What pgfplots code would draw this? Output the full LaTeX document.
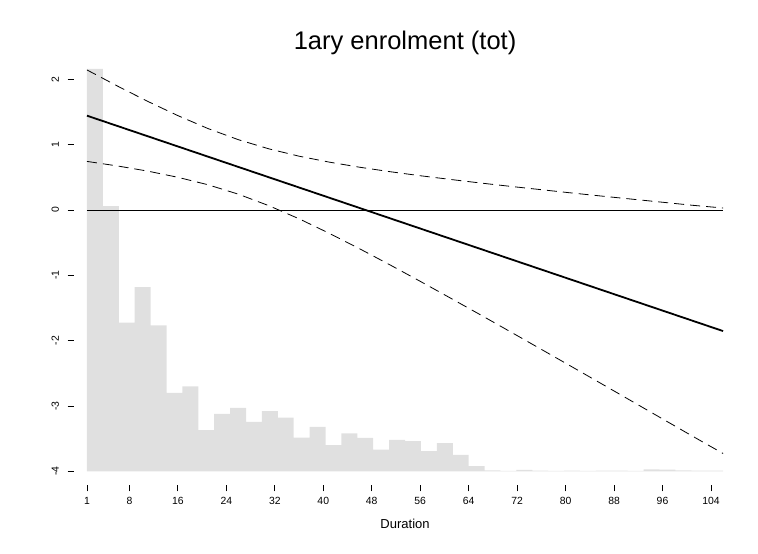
\documentclass[border=0pt]{standalone}
\usepackage{fontspec}
\setmainfont{Liberation Sans}
\usepackage{pgfplots}
\usepackage{pgfplotstable}
\pgfplotsset{compat=1.18}
\definecolor{histgray}{RGB}{224,224,224}

% Duration histogram, rescaled onto the effect axis (baseline at -4):
% left bin edge and bar top; first and last rows close the outline.
\pgfplotstableread{
x y
1 -4
1 2.16
3.625 0.06
6.25 -1.725
8.875 -1.18
11.5 -1.765
14.125 -2.80
16.75 -2.70
19.375 -3.37
22 -3.12
24.625 -3.03
27.25 -3.245
29.875 -3.08
32.5 -3.18
35.125 -3.485
37.75 -3.32
40.375 -3.60
43 -3.42
45.625 -3.49
48.25 -3.67
50.875 -3.52
53.5 -3.54
56.125 -3.69
58.75 -3.57
61.375 -3.75
64 -3.92
66.625 -3.985
69.25 -3.995
71.875 -3.98
74.5 -3.99
77.125 -3.995
79.75 -3.99
82.375 -3.995
85 -3.99
87.625 -3.99
90.25 -3.995
92.875 -3.97
95.5 -3.975
98.125 -3.985
100.75 -3.99
103.375 -3.99
106 -3.99
106 -4
}\durhist

% Estimated effect and its confidence band
\pgfplotstableread{
x fit upper lower
1 1.443 2.143 0.743
6 1.286 1.898 0.674
11 1.129 1.663 0.595
16 0.972 1.444 0.500
21 0.815 1.245 0.385
26 0.658 1.075 0.241
31 0.501 0.936 0.066
36 0.344 0.823 -0.135
41 0.187 0.732 -0.358
46 0.030 0.654 -0.594
51 -0.127 0.586 -0.840
56 -0.284 0.524 -1.092
61 -0.441 0.467 -1.349
66 -0.598 0.412 -1.608
71 -0.755 0.360 -1.870
76 -0.912 0.310 -2.134
81 -1.069 0.260 -2.398
86 -1.226 0.212 -2.664
91 -1.383 0.165 -2.931
96 -1.540 0.118 -3.198
101 -1.697 0.071 -3.465
106 -1.854 0.030 -3.728
}\effect

\begin{document}
\begin{tikzpicture}
\path[use as bounding box] (-74pt,-69pt) rectangle (684pt,485pt);
\begin{axis}[
  at={(0pt,0pt)}, anchor=south west,
  x=6.058pt, y=65.33pt,
  xmin=-1.146, xmax=108.15, ymin=-4.21, ymax=2.41,
  axis lines=left, axis line style={draw=none},
  tick align=outside, major tick length=6.5pt,
  tick style={black, line width=0.8pt},
  xtick={1,8,16,24,32,40,48,56,64,72,80,88,96,104},
  xticklabels={1,8,16,24,32,40,48,56,64,72,80,88,96,104},
  ytick={-4,-3,-2,-1,0,1,2},
  yticklabels={-4,-3,-2,-1,0,1,2},
  ticklabel style={font=\fontsize{10.4}{12}\selectfont},
  xticklabel style={yshift=-2.5pt},
  % rotated labels: local y points left after the 90 degree turn
  yticklabel style={rotate=90, anchor=south, yshift=5pt},
  title={1ary enrolment (tot)},
  title style={font=\fontsize{25.5}{30}\selectfont, at={(0.5,1)}, anchor=base, yshift=-2.5pt},
  xlabel={Duration},
  xlabel style={font=\fontsize{13}{15}\selectfont, at={(0.5,0)}, anchor=base, yshift=-44pt},
]
\addplot[const plot, fill=histgray, draw=none] table[x=x, y=y] {\durhist};
\addplot[black, line width=0.8pt] coordinates {(1,0) (106,0)};
\addplot[black, line width=0.8pt, dash pattern=on 10pt off 6pt] table[x=x, y=upper] {\effect};
\addplot[black, line width=0.8pt, dash pattern=on 10pt off 6pt] table[x=x, y=lower] {\effect};
\addplot[black, line width=1.8pt] table[x=x, y=fit] {\effect};
\end{axis}
\end{tikzpicture}
\end{document}
